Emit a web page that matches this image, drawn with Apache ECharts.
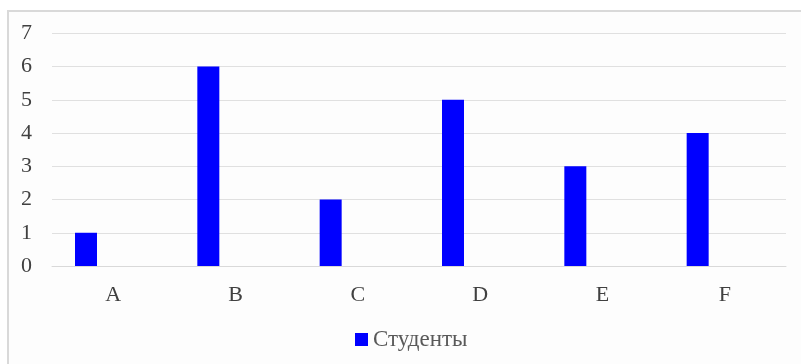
<!DOCTYPE html>
<html>
<head>
<meta charset="utf-8">
<script src="https://cdn.jsdelivr.net/npm/echarts@6/dist/echarts.min.js"></script>
<style>
  html, body { margin: 0; padding: 0; background: #ffffff; }
  #chart { width: 801px; height: 364px; }
</style>
</head>
<body>
<div id="chart"></div>
<script>
// Categories and values
const categories = ['A', 'B', 'C', 'D', 'E', 'F'];
const students = [1, 6, 2, 5, 3, 4];
const seriesName = 'Студенты';
const yTicks = { min: 0, max: 7, interval: 1 };

const chart = echarts.init(document.getElementById('chart'), null, { renderer: 'canvas' });

const labelFont = 'Liberation Serif, Times New Roman, serif';

chart.setOption({
  backgroundColor: '#ffffff',
  animation: false,
  graphic: [{
    type: 'rect',
    shape: { x: 8, y: 11, width: 820, height: 380 },
    style: { fill: '#fdfdfd', stroke: '#d9d9d9', lineWidth: 2 },
    z: -10,
    silent: true
  }],
  grid: { left: 52, right: 15, top: 33.3, bottom: 98, containLabel: false },
  legend: {
    data: [seriesName],
    left: 355,
    top: 328,
    padding: 0,
    itemWidth: 13,
    itemHeight: 13,
    icon: 'rect',
    textStyle: { fontFamily: labelFont, fontSize: 23, color: '#595959' }
  },
  xAxis: {
    type: 'category',
    data: categories,
    axisLine: { show: true, lineStyle: { color: '#d9d9d9', width: 1 } },
    axisTick: { show: false },
    axisLabel: { fontFamily: labelFont, fontSize: 22, color: '#404040', margin: 18 }
  },
  yAxis: {
    type: 'value',
    min: yTicks.min,
    max: yTicks.max,
    interval: yTicks.interval,
    axisLine: { show: false },
    axisTick: { show: false },
    splitLine: { lineStyle: { color: '#e0e0e0', width: 1 } },
    axisLabel: { fontFamily: labelFont, fontSize: 22, color: '#404040', margin: 20 }
  },
  series: [
    {
      name: seriesName,
      type: 'bar',
      data: students,
      barWidth: 22,
      barGap: '147%',
      itemStyle: { color: '#0000ff' }
    },
    {
      // empty companion series that reserves the second slot in each category
      name: '',
      type: 'bar',
      data: students.map(() => null),
      barWidth: 22,
      itemStyle: { color: 'transparent' }
    }
  ]
});
</script>
</body>
</html>
